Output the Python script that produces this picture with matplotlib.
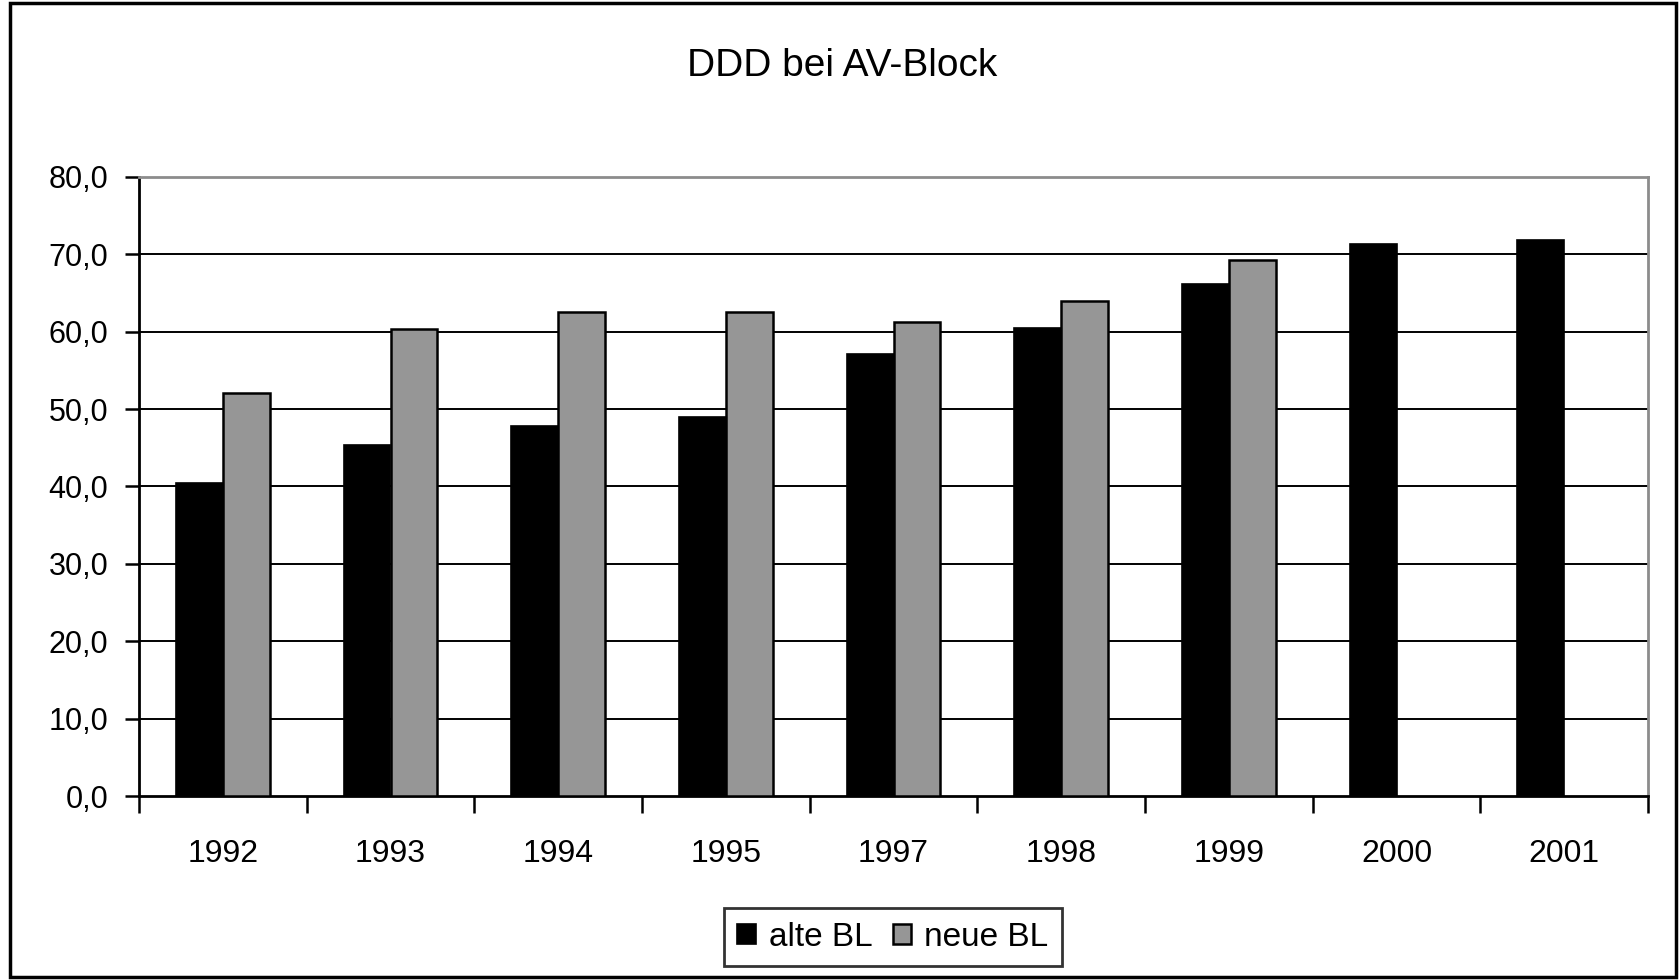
import numpy as np
import matplotlib.pyplot as plt
from matplotlib.patches import Rectangle, Patch

plt.rcParams['font.family'] = ['Liberation Sans', 'DejaVu Sans']

# Daten
jahre = ['1992', '1993', '1994', '1995', '1997', '1998', '1999', '2000', '2001']
alte_bl = [40.5, 45.3, 47.8, 49.0, 57.1, 60.5, 66.2, 71.3, 71.8]
neue_bl = [52.1, 60.4, 62.6, 62.6, 61.2, 64.0, 69.3, np.nan, np.nan]
y_ticks = [0, 10, 20, 30, 40, 50, 60, 70, 80]
y_labels = ['0,0', '10,0', '20,0', '30,0', '40,0', '50,0', '60,0', '70,0', '80,0']

W, H = 1680, 980
fig = plt.figure(figsize=(16.8, 9.8), dpi=100)
fig.patch.set_facecolor('white')

# Rahmen um das ganze Diagramm
fig.patches.append(Rectangle((10 / W, 3 / H), (1676 - 10) / W, (977 - 3) / H,
                             transform=fig.transFigure, fill=False,
                             edgecolor='black', linewidth=2.5))

ax = fig.add_axes([139 / W, (H - 796) / H, (1648 - 139) / W, (796 - 177) / H])

x = np.arange(len(jahre)) + 0.5
bw = 0.28
ax.bar(x - bw / 2, alte_bl, bw, color='black', edgecolor='black', linewidth=1.2,
       zorder=3, label='alte BL')
ax.bar(x + bw / 2, neue_bl, bw, color='#969696', edgecolor='black', linewidth=1.8,
       zorder=3, label='neue BL')

ax.set_xlim(0, len(jahre))
ax.set_ylim(0, 80)

# Gitterlinien
for t in y_ticks[1:-1]:
    ax.axhline(t, color='black', linewidth=1.4, zorder=1)

ax.set_yticks(y_ticks)
ax.set_yticklabels(y_labels)
ax.tick_params(axis='y', direction='out', length=10, width=1.8, pad=12,
               labelsize=22)

# x-Achse: Striche zwischen den Gruppen, Beschriftung in der Mitte
ax.set_xticks(np.arange(len(jahre) + 1))
ax.set_xticklabels([])
ax.set_xticks(x, minor=True)
ax.set_xticklabels(jahre, minor=True)
ax.tick_params(axis='x', which='major', direction='out', length=12, width=1.8)
ax.tick_params(axis='x', which='minor', length=0, pad=31, labelsize=23)

for s in ['left', 'bottom']:
    ax.spines[s].set_color('black')
    ax.spines[s].set_linewidth(2)
for s in ['top', 'right']:
    ax.spines[s].set_color('#8c8c8c')
    ax.spines[s].set_linewidth(2)

fig.text(842 / W, 1 - 66 / H, 'DDD bei AV-Block', ha='center', va='center',
         fontsize=28)

handles = [Patch(facecolor='black', edgecolor='black', linewidth=1.2),
           Patch(facecolor='#969696', edgecolor='black', linewidth=1.8)]
leg = fig.legend(handles, ['alte BL', 'neue BL'], loc='center',
                 bbox_to_anchor=(893 / W, 1 - 937 / H), ncol=2, fontsize=24,
                 frameon=True, fancybox=False, handlelength=0.55,
                 handleheight=0.55, handletextpad=0.4, columnspacing=0.6,
                 borderpad=0.4, borderaxespad=0)
leg.get_frame().set_edgecolor('black')
leg.get_frame().set_linewidth(2)

fig.savefig('out.png', dpi=100)
